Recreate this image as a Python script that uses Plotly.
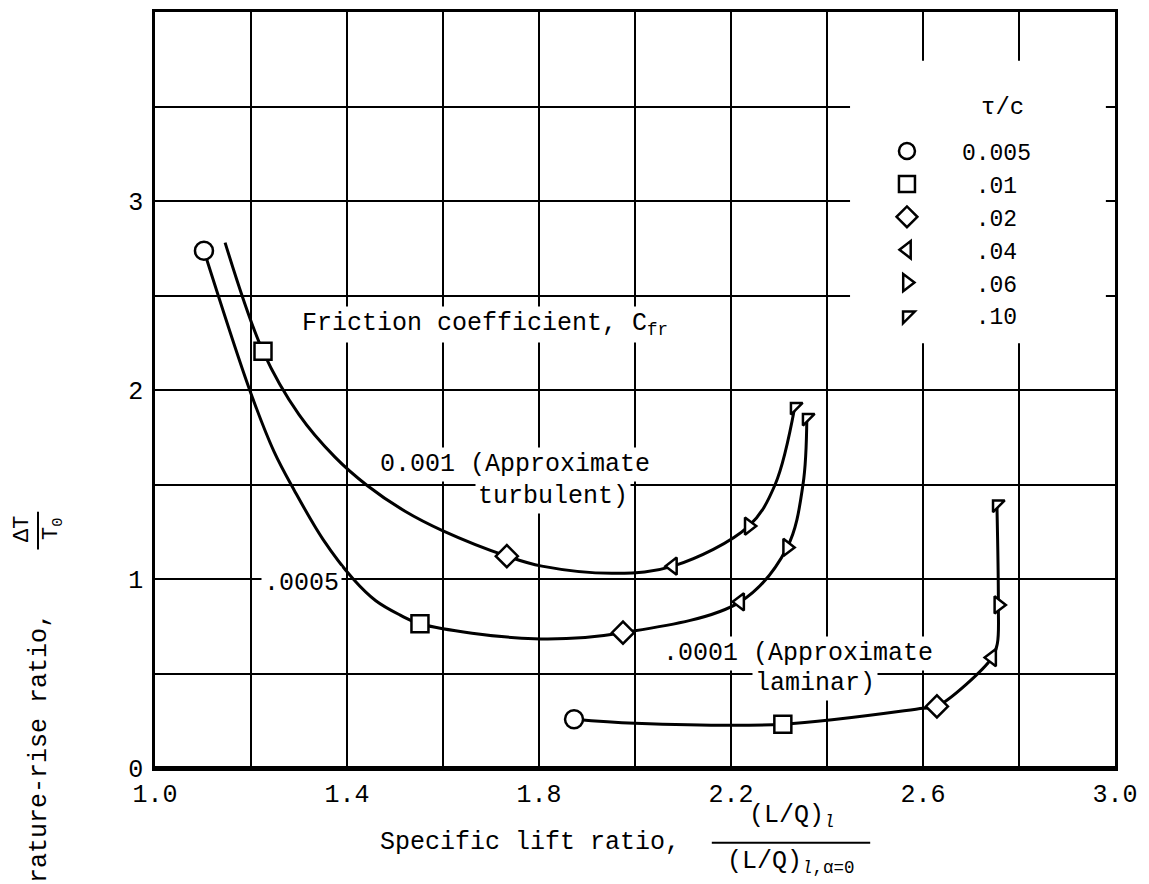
import plotly.graph_objects as go

FONT = "Liberation Mono, Courier New, monospace"

# thickness ratio tau/c: legend labels and marker symbols
tau_c = ["0.005", ".01", ".02", ".04", ".06", ".10"]
tau_symbols = ["circle", "square", "diamond", "triangle-left", "triangle-right", "triangle-nw"]
tau_sizes = [18, 17, 17, 15, 15, 13]

# Friction coefficient 0.001 (approximate turbulent); tau/c tag per point, None = curve only
turb_x = [1.146, 1.225, 1.300, 1.375, 1.442, 1.520, 1.600, 1.733, 1.806, 1.960, 2.079, 2.237, 2.292, 2.333]
turb_y = [2.780, 2.205, 1.870, 1.645, 1.495, 1.360, 1.255, 1.121, 1.068, 1.030, 1.068, 1.280, 1.500, 1.911]
turb_tau = [None, ".01", None, None, None, None, None, ".02", None, None, ".04", ".06", None, ".10"]

# Friction coefficient 0.0005
mid_x = [1.102, 1.198, 1.248, 1.290, 1.350, 1.413, 1.460, 1.510, 1.552, 1.790, 1.975, 2.219, 2.317, 2.350, 2.358]
mid_y = [2.737, 1.995, 1.674, 1.470, 1.210, 1.000, 0.885, 0.810, 0.763, 0.684, 0.716, 0.879, 1.167, 1.500, 1.853]
mid_tau = ["0.005", None, None, None, None, None, None, None, ".01", None, ".02", ".04", ".06", None, ".10"]

# Friction coefficient 0.0001 (approximate laminar)
lam_x = [1.873, 2.000, 2.308, 2.600, 2.629, 2.744, 2.755, 2.757, 2.754]
lam_y = [0.258, 0.237, 0.232, 0.316, 0.326, 0.584, 0.660, 0.863, 1.395]
lam_tau = ["0.005", None, ".01", None, ".02", ".04", None, ".06", ".10"]

# axes: labelled ticks and grid spacing
x_tick_vals = [1.0, 1.4, 1.8, 2.2, 2.6, 3.0]
x_tick_labels = ["1.0", "1.4", "1.8", "2.2", "2.6", "3.0"]
y_tick_vals = [0, 1, 2, 3]
y_tick_labels = ["0", "1", "2", "3"]
x_grid_step = 0.2
y_grid_step = 0.5

curves = [(turb_x, turb_y, turb_tau), (mid_x, mid_y, mid_tau), (lam_x, lam_y, lam_tau)]

fig = go.Figure()

for cx, cy, _ in curves:
    fig.add_trace(go.Scatter(
        x=cx, y=cy, mode="lines", showlegend=False, hoverinfo="skip",
        line=dict(color="black", width=3, shape="spline", smoothing=1.0),
    ))

# one marker trace per tau/c value, collecting its points from every curve
for name, sym, size in zip(tau_c, tau_symbols, tau_sizes):
    px, py = [], []
    for cx, cy, ctau in curves:
        for xv, yv, tv in zip(cx, cy, ctau):
            if tv == name:
                px.append(xv)
                py.append(yv)
    shown = name if name.startswith("0") else "\u00a0" + name
    fig.add_trace(go.Scatter(
        x=px, y=py, mode="markers", name=shown,
        marker=dict(symbol=sym, size=size, color="white",
                    line=dict(color="black", width=2.5)),
    ))

ann_font = dict(family=FONT, size=25, color="black")


def label(text, x, y, **kw):
    fig.add_annotation(text=text, x=x, y=y, xref="x", yref="y", showarrow=False,
                       xanchor="left", yanchor="middle", bgcolor="white",
                       borderpad=2, font=ann_font, **kw)


label("Friction coefficient, C<sub>fr</sub>", 1.300, 2.347)
label("0.001 (Approximate", 1.462, 1.605)
label("turbulent)", 1.666, 1.437)
label(".0005", 1.220, 0.974)
label(".0001 (Approximate", 2.053, 0.605)
label("laminar)", 2.243, 0.447)

# heading of the tau/c key
fig.add_annotation(text="\u03c4/c", x=0.883, y=0.874, xref="paper", yref="paper",
                   showarrow=False, xanchor="center", yanchor="middle",
                   font=dict(family=FONT, size=24, color="black"))

# x-axis title with the stacked ratio
fig.add_annotation(text="Specific lift ratio,", x=0.2323, y=-0.0988, xref="paper", yref="paper",
                   showarrow=False, xanchor="left", yanchor="middle", font=ann_font)
fig.add_annotation(text="(L/Q)<sub><i>l</i></sub>", x=0.6635, y=-0.0646, xref="paper",
                   yref="paper", showarrow=False, xanchor="center", yanchor="middle",
                   font=ann_font)
fig.add_annotation(text="(L/Q)<sub><i>l</i>,\u03b1=0</sub>", x=0.6625, y=-0.125, xref="paper",
                   yref="paper", showarrow=False, xanchor="center", yanchor="middle",
                   font=ann_font)
fig.add_shape(type="line", xref="paper", yref="paper", x0=0.580, x1=0.745,
              y0=-0.0988, y1=-0.0988, line=dict(color="black", width=2))

# y-axis title, rotated, with the stacked ratio
fig.add_annotation(text="Temperature-rise ratio,", x=-0.1198, y=-0.0224, xref="paper",
                   yref="paper", showarrow=False, textangle=-90, xanchor="center",
                   yanchor="middle", font=ann_font)
fig.add_annotation(text="\u0394T", x=-0.1375, y=0.3162, xref="paper", yref="paper",
                   showarrow=False, textangle=-90, xanchor="center", yanchor="middle",
                   font=dict(family=FONT, size=22, color="black"))
fig.add_annotation(text="T<sub>0</sub>", x=-0.1063, y=0.3162, xref="paper", yref="paper",
                   showarrow=False, textangle=-90, xanchor="center", yanchor="middle",
                   font=dict(family=FONT, size=22, color="black"))
fig.add_shape(type="line", xref="paper", yref="paper", x0=-0.1219, x1=-0.1219,
              y0=0.289, y1=0.339, line=dict(color="black", width=2))

# blank panel behind the tau/c key
fig.add_shape(type="rect", xref="x", yref="y", x0=2.448, x1=2.981, y0=2.247, y1=3.742,
              layer="between", line=dict(width=0), fillcolor="white")

# heavier bottom axis line
fig.add_shape(type="line", xref="paper", yref="paper", x0=0, x1=1, y0=0, y1=0,
              line=dict(color="black", width=4))

axis_common = dict(showgrid=True, gridcolor="black", gridwidth=2, showline=True,
                   linecolor="black", linewidth=2.5, mirror=True, ticks="",
                   zeroline=False, tickfont=dict(family=FONT, size=25, color="black"))

fig.update_layout(
    width=1149, height=884,
    margin=dict(l=155, r=34, t=9, b=116),
    paper_bgcolor="white", plot_bgcolor="white",
    xaxis=dict(range=[1.0, 3.0], tickmode="array", tickvals=x_tick_vals,
               ticktext=x_tick_labels, ticklabelstandoff=1,
               minor=dict(dtick=x_grid_step, tick0=1.0, showgrid=True,
                          gridcolor="black", gridwidth=2, ticks=""),
               **axis_common),
    yaxis=dict(range=[0, 4.0], tickmode="array", tickvals=y_tick_vals,
               ticktext=y_tick_labels, ticklabelstandoff=4,
               minor=dict(dtick=y_grid_step, tick0=0, showgrid=True,
                          gridcolor="black", gridwidth=2, ticks=""),
               **axis_common),
    legend=dict(x=0.726, y=0.8445, xanchor="left", yanchor="top",
                bgcolor="rgba(0,0,0,0)", borderwidth=0, itemwidth=100,
                font=dict(family=FONT, size=23, color="black")),
    showlegend=True,
)

fig.write_html("out.html")
